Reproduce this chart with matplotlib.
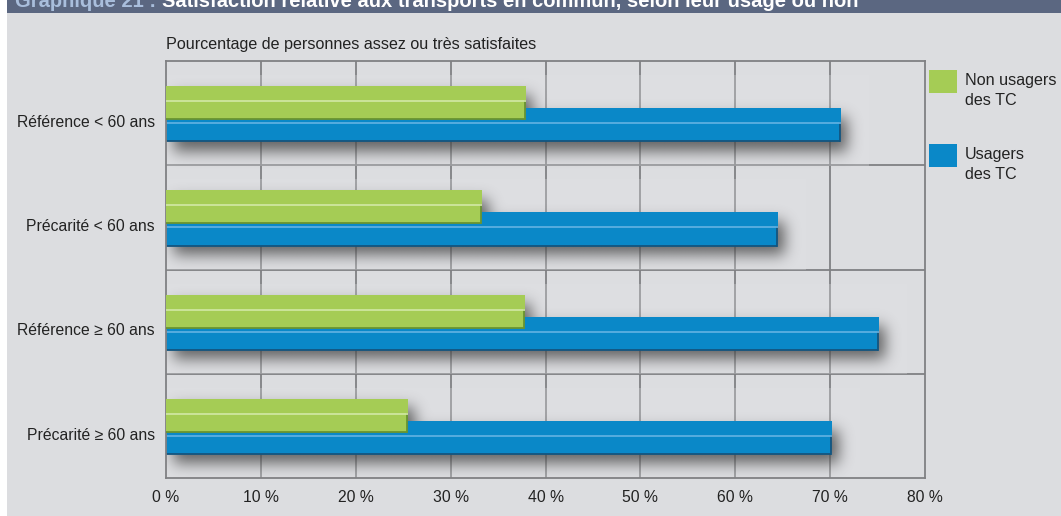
import numpy as np
import matplotlib
matplotlib.use("Agg")
import matplotlib.pyplot as plt
from matplotlib.patches import Rectangle

plt.rcParams['font.family'] = ['Liberation Sans', 'DejaVu Sans']

# ---- data -------------------------------------------------------------
categories = ["Référence < 60 ans", "Précarité < 60 ans",
              "Référence ≥ 60 ans", "Précarité ≥ 60 ans"]
non_usagers = [37.8, 33.2, 37.7, 25.4]
usagers = [71.0, 64.4, 75.0, 70.1]
series_labels = ["Non usagers\ndes TC", "Usagers\ndes TC"]
xticks = [0, 10, 20, 30, 40, 50, 60, 70, 80]
xtick_labels = [f"{v} %" for v in xticks]
subtitle = "Pourcentage de personnes assez ou très satisfaites"
title_num = "Graphique 21 : "
title_txt = "Satisfaction relative aux transports en commun, selon leur usage ou non"

# ---- style ------------------------------------------------------------
W, H = 1061, 516
PANEL = '#dcdde0'
BAND = '#5b6781'
GREEN, GREEN_DARK, GREEN_HL = '#a5cc55', '#6a9430', '#d2e8a6'
BLUE, BLUE_DARK, BLUE_HL = '#0a88c8', '#13557f', '#63b3e3'
GRID = '#808083'
TXT = '#222222'
FS = 11.3

# vertical layout inside a category slot (fractions of the slot)
G_BACK, G_EDGE, G_BOT = 0.24, 0.385, 0.558
B_BACK, B_EDGE, B_BOT = 0.452, 0.596, 0.77

fig = plt.figure(figsize=(W / 100, H / 100), dpi=100)
fig.patch.set_facecolor('white')
fig.patches.append(Rectangle((7 / W, 0), 1, 1, transform=fig.transFigure,
                             facecolor=PANEL, edgecolor='none', zorder=-10))
fig.patches.append(Rectangle((7 / W, 1 - 12.5 / H), 1, 12.5 / H,
                             transform=fig.transFigure, facecolor=BAND,
                             edgecolor='none', zorder=-9))

# title band (text partly cut by the top edge)
t1 = fig.text(15 / W, 1 - 7 / H, title_num, color='#a9bedc', fontsize=14.5,
              fontweight='bold', va='baseline', ha='left')
fig.canvas.draw()
bb = t1.get_window_extent()
fig.text(bb.x1 / W, 1 - 7 / H, title_txt, color='white', fontsize=14.5,
         fontweight='bold', va='baseline', ha='left')

ax = fig.add_axes([166 / W, 1 - 478 / H, (925 - 166) / W, (478 - 61) / H])
ax.set_facecolor(PANEL)

n = len(categories)

# soft drop shadow computed from the bar shapes
x0, x1, nx = -5.0, 85.0, 900
ny = 420
xs = np.linspace(x0, x1, nx)
ys = np.linspace(0, n, ny)
X, Y = np.meshgrid(xs, ys)
mask = np.zeros_like(X)
sdx, sdy = 0.8, 0.09
for i in range(n):
    m1 = (X >= 0 + sdx) & (X <= non_usagers[i] + sdx) & \
         (Y >= i + G_BACK + sdy) & (Y <= i + G_BOT + sdy)
    m2 = (X >= 0 + sdx) & (X <= usagers[i] + sdx) & \
         (Y >= i + B_BACK + sdy) & (Y <= i + B_BOT + sdy)
    mask[m1 | m2] = 1.0
sig = 7.5
kr = np.arange(-3 * int(sig), 3 * int(sig) + 1)
k = np.exp(-kr ** 2 / (2 * sig ** 2))
k /= k.sum()
mask = np.apply_along_axis(lambda r: np.convolve(r, k, mode='same'), 1, mask)
mask = np.apply_along_axis(lambda c: np.convolve(c, k, mode='same'), 0, mask)
rgba = np.zeros((ny, nx, 4))
rgba[..., :3] = 0.2
rgba[..., 3] = np.clip(mask * 0.72, 0, 1)
ax.imshow(rgba, extent=(x0, x1, n, 0), origin='upper', aspect='auto',
          interpolation='bilinear', zorder=1)
ax.set_xlim(0, 80)
ax.set_ylim(n, 0)

# grid
for v in xticks[1:-1]:
    ax.axvline(v, color=GRID, lw=1.3, zorder=0.5)
for i in range(1, n):
    ax.axhline(i, color=GRID, lw=1.3, zorder=0.5)
for s in ax.spines.values():
    s.set_color(GRID)
    s.set_linewidth(1.3)

# faint light backdrop behind each pair of bars (softens the grid there)
for i in range(n):
    ax.add_patch(Rectangle((0, i + 0.135), usagers[i] + 3.1, 0.865 + 0.006,
                           facecolor='#e0e1e4', edgecolor='none', alpha=0.3,
                           zorder=0.8, clip_on=True))


def bar3d(i, val, back, edge, bot, face, dark, hl, z):
    # top face
    ax.barh(i + (back + edge) / 2, val + 0.15, height=edge - back, left=0,
            color=face, edgecolor='none', zorder=z)
    # front face
    ax.barh(i + (edge + bot) / 2, val, height=bot - edge, left=0,
            color=face, edgecolor='none', zorder=z + 0.1)
    ax.plot([0, val], [i + bot, i + bot], color=dark, lw=1.3, zorder=z + 0.2,
            solid_capstyle='butt')
    ax.plot([val, val], [i + edge, i + bot], color=dark, lw=1.3, zorder=z + 0.2)
    ax.plot([0, val + 0.1], [i + edge, i + edge], color=hl, lw=1.2,
            zorder=z + 0.2, solid_capstyle='butt')


for i in range(n):
    bar3d(i, usagers[i], B_BACK, B_EDGE, B_BOT, BLUE, BLUE_DARK, BLUE_HL, 2)
    bar3d(i, non_usagers[i], G_BACK, G_EDGE, G_BOT, GREEN, GREEN_DARK,
          GREEN_HL, 3)

ax.set_xticks(xticks)
ax.set_xticklabels(xtick_labels)
ax.set_yticks([i + 0.575 for i in range(n)])
ax.set_yticklabels(categories)
ax.tick_params(axis='both', length=0, labelsize=FS, colors=TXT)
ax.tick_params(axis='x', pad=9)
ax.tick_params(axis='y', pad=8)

fig.text(166 / W, 1 - 45 / H, subtitle, fontsize=11.6, color=TXT,
         va='center', ha='left')

# legend: colour keys with two-line labels
legend_colors = [GREEN, BLUE]
legend_tops = [70, 144]
for col, top, lab in zip(legend_colors, legend_tops, series_labels):
    fig.patches.append(Rectangle((929 / W, 1 - (top + 23) / H), 28 / W, 23 / H,
                                 transform=fig.transFigure, facecolor=col,
                                 edgecolor='none'))
    fig.text(965 / W, 1 - (top + 20.5) / H, lab, fontsize=11.6, color=TXT,
             va='center', ha='left', linespacing=1.4)

fig.savefig('out.png', dpi=100, facecolor=fig.get_facecolor())
